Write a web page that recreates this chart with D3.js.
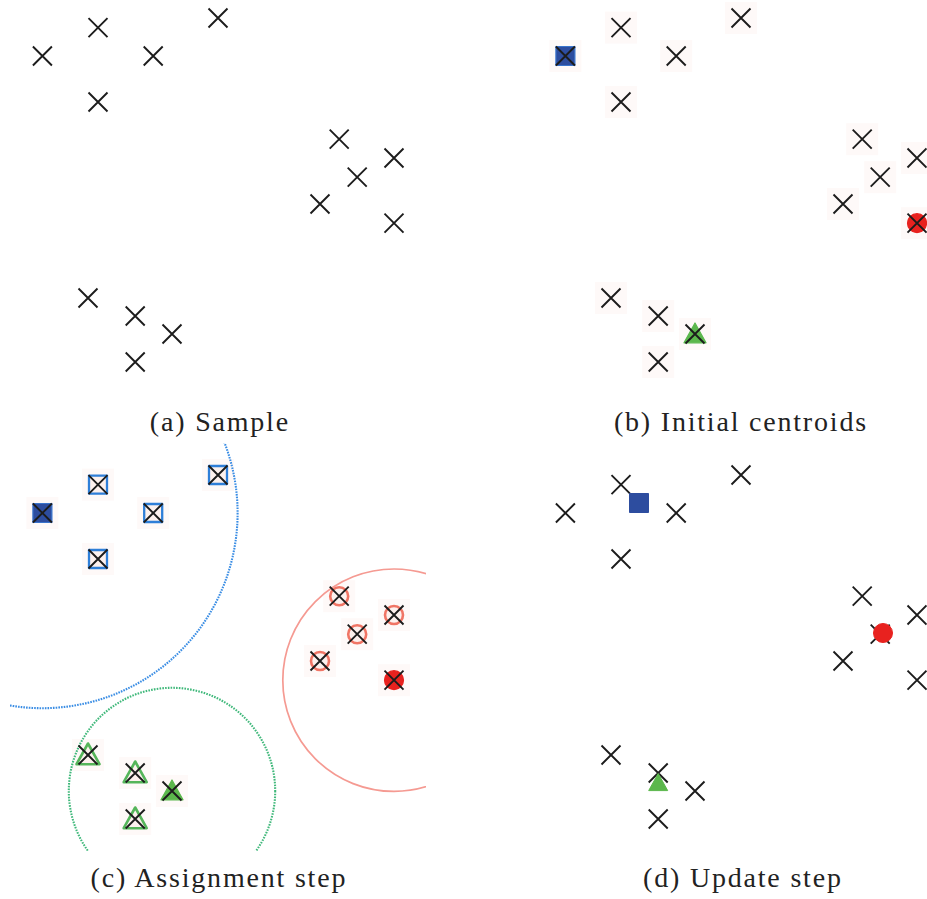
<!DOCTYPE html>
<html>
<head>
<meta charset="utf-8">
<script src="https://cdn.jsdelivr.net/npm/d3@7"></script>
<style>
  html, body { margin: 0; padding: 0; background: #fff; }
  svg { display: block; }
</style>
</head>
<body>
<svg id="chart" width="927" height="899"></svg>
<script>
// ---- data (arbitrary units, y grows downward) ----
const pointX = [1.06, 2.45, 3.83, 5.45, 2.45, 8.48, 9.85, 8.93, 8.00, 9.85, 2.20, 3.38, 4.30, 3.38];
const pointY = [1.40, 0.69, 1.40, 0.45, 2.55, 3.48, 3.95, 4.43, 5.10, 5.58, 7.45, 7.90, 8.35, 9.05];
const assignment = [0, 0, 0, 0, 0, 1, 1, 1, 1, 1, 2, 2, 2, 2]; // 0 blue, 1 red, 2 green
const initialCentroidIndex = [0, 9, 12];             // blue, red, green
const updatedCentroidX = [2.90, 9.00, 3.38];
const updatedCentroidY = [1.15, 4.40, 8.15];
const assignRadius = [4.88, 2.78, 2.58];
const clusterNames = ["blue", "red", "green"];
const captions = ["(a) Sample", "(b) Initial centroids", "(c) Assignment step", "(d) Update step"];

// ---- styles ----
const filledColor = ["#2d4d9f", "#e8221f", "#5bb74c"];
const outlineColor = ["#2f7fd8", "#f07565", "#55b55a"];
const circleColor = ["#3a8de4", "#f59a92", "#3fb87a"];
const circleDash = ["1.6,1.1", null, "1.6,1.2"];

const svg = d3.select("#chart");
const x = d3.scaleLinear().domain([0, 10]).range([0, 400]);
const y = d3.scaleLinear().domain([0, 10]).range([0, 400]);

const panels = [
  { dx: 0, dy: 0 }, { dx: 523, dy: 0 }, { dx: 0, dy: 457 }, { dx: 523, dy: 457 }
];
const captionPos = [{ cx: 219, cy: 431 }, { cx: 740, cy: 431 }, { cx: 218, cy: 887 }, { cx: 742, cy: 887 }];

const pts = pointX.map((v, i) => ({ x: pointX[i], y: pointY[i], c: assignment[i], i }));

function markerPath(type, size) {
  if (type === 0) { const h = size / 2; return `M${-h},${-h}H${h}V${h}H${-h}Z`; }
  if (type === 1) { const r = size / 2; return `M${r},0A${r},${r} 0 1,1 ${-r},0A${r},${r} 0 1,1 ${r},0Z`; }
  const h = size / 2; return `M0,${-h}L${h},${h * 0.8}L${-h},${h * 0.8}Z`;
}

function drawCross(g, d) {
  const s = 9.5;
  g.append("path")
    .attr("transform", `translate(${x(d.x)},${y(d.y)})`)
    .attr("d", `M${-s},${-s}L${s},${s}M${-s},${s}L${s},${-s}`)
    .attr("stroke", "#1c1c1c").attr("stroke-width", 1.9).attr("fill", "none");
}

function drawHalo(g, d) {
  g.append("rect")
    .attr("x", x(d.x) - 16).attr("y", y(d.y) - 16)
    .attr("width", 32).attr("height", 32)
    .attr("fill", "#fef9f8");
}

panels.forEach((p, k) => {
  const g = svg.append("g").attr("transform", `translate(${p.dx},${p.dy})`);
  if (k === 2) {
    g.append("clipPath").attr("id", "clipC").append("rect")
      .attr("x", 10).attr("y", -14).attr("width", 416).attr("height", 408);
  }
  const inner = k === 2 ? g.append("g").attr("clip-path", "url(#clipC)") : g;

  if (k === 1 || k === 2) pts.forEach(d => drawHalo(inner, d));

  if (k === 2) {
    // assignment circles around initial centroids
    initialCentroidIndex.forEach((ci, c) => {
      inner.append("circle")
        .attr("cx", x(pointX[ci])).attr("cy", y(pointY[ci]))
        .attr("r", x(assignRadius[c]) - x(0))
        .attr("fill", "none").attr("stroke", circleColor[c])
        .attr("stroke-width", c === 1 ? 1.7 : 2.1)
        .attr("stroke-dasharray", circleDash[c]);
    });
    // outlined membership markers
    pts.forEach(d => {
      if (initialCentroidIndex.includes(d.i)) return;
      inner.append("path")
        .attr("transform", `translate(${x(d.x)},${y(d.y)})`)
        .attr("d", markerPath(d.c, d.c === 2 ? 23 : 18))
        .attr("fill", "#fdf1ee").attr("stroke", outlineColor[d.c])
        .attr("stroke-width", d.c === 0 ? 2.3 : 2.6).attr("stroke-linejoin", "round");
    });
  }

  if (k === 1 || k === 2) {
    initialCentroidIndex.forEach((ci, c) => {
      inner.append("path")
        .attr("transform", `translate(${x(pointX[ci])},${y(pointY[ci])})`)
        .attr("d", markerPath(c, c === 2 ? 22 : 19))
        .attr("fill", filledColor[c])
        .attr("stroke", c === 0 ? "#3a74cc" : filledColor[c])
        .attr("stroke-width", 1.2).attr("stroke-linejoin", "round");
    });
  }

  pts.forEach(d => drawCross(inner, d));

  if (k === 3) {
    updatedCentroidX.forEach((cx, c) => {
      inner.append("path")
        .attr("transform", `translate(${x(cx)},${y(updatedCentroidY[c])})`)
        .attr("d", markerPath(c, 19))
        .attr("fill", filledColor[c])
        .attr("stroke", filledColor[c]).attr("stroke-width", 1)
        .attr("stroke-linejoin", "round");
    });
  }
});

captions.forEach((t, k) => {
  svg.append("text")
    .attr("x", captionPos[k].cx + 0.9).attr("y", captionPos[k].cy)
    .attr("text-anchor", "middle")
    .attr("font-family", "'Liberation Serif', 'DejaVu Serif', serif")
    .attr("font-size", 28)
    .attr("letter-spacing", 1.8)
    .attr("fill", "#222")
    .text(t);
});
</script>
</body>
</html>
